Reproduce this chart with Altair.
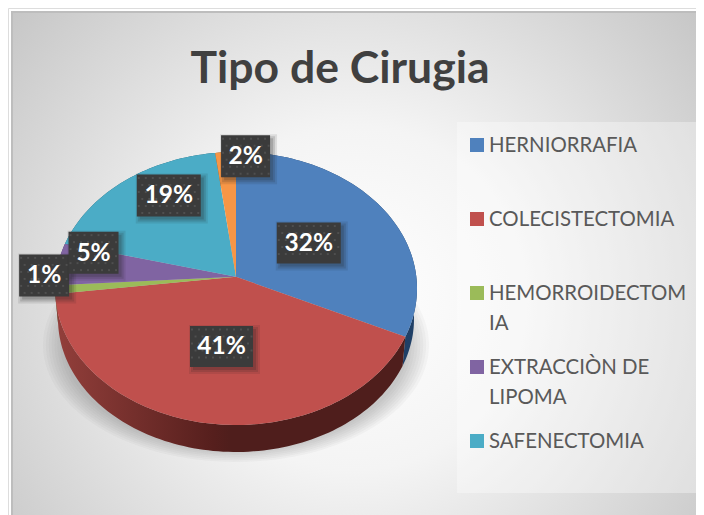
import math
import altair as alt
import pandas as pd

title_text = "Tipo de Cirugia"
categories = ["HERNIORRAFIA", "COLECISTECTOMIA", "HEMORROIDECTOMIA", "EXTRACCIÒN DE LIPOMA", "SAFENECTOMIA", "OTROS"]
legend_lines = [["HERNIORRAFIA"], ["COLECISTECTOMIA"], ["HEMORROIDECTOM", "IA"], ["EXTRACCIÒN DE", "LIPOMA"], ["SAFENECTOMIA"]]
values = [32, 41, 1, 5, 19, 2]
colors = ["#4f81bd", "#c0504d", "#9bbb59", "#8064a2", "#4bacc6", "#f79646"]
wall_colors = ["#1f3f66", "#4f1e1c", "#4f6127", "#41305a", "#1f5a6b", "#8a4f1c"]

W, H = 688, 507
CX, CY, RX, RY = 236, 288.5, 181, 136.5
TILT = 0.086


def ux(px):
    return (px - CX) / RX


def vy(py):
    return (CY - py) / RY


xs = alt.Scale(domain=[ux(8), ux(8 + W)], nice=False, zero=False)
ys = alt.Scale(domain=[vy(8 + H), vy(8)], nice=False, zero=False)
X = lambda f="x": alt.X(f"{f}:Q", scale=xs, axis=None)
Y = lambda f="y": alt.Y(f"{f}:Q", scale=ys, axis=None)


def project(theta_deg):
    t = math.radians(theta_deg)
    x, y = math.sin(t), math.cos(t)
    d = 1 + TILT * y
    return x * math.sqrt(1 - TILT ** 2) / d, (y + TILT) / d


def arc(a0, a1):
    n = max(2, int(abs(a1 - a0) / 1.5) + 2)
    return [project(a0 + (a1 - a0) * i / (n - 1)) for i in range(n)]


def poly(points, fill, opacity=1.0):
    df = pd.DataFrame(points, columns=["x", "y"])
    df["i"] = range(len(df))
    return alt.Chart(df).mark_line(fill=fill, strokeWidth=0, opacity=opacity, interpolate="linear-closed").encode(
        x=X(), y=Y(), order="i:Q"
    )


def ellipse(cx, cy, rx, ry):
    pts = []
    for i in range(120):
        t = 2 * math.pi * i / 120
        pts.append((cx + rx * math.sin(t), cy + ry * math.cos(t)))
    return pts


def rect(x0, y0, x1, y1, fill, opacity=1.0):
    df = pd.DataFrame([{"x": ux(x0), "x2": ux(x1), "y": vy(y0), "y2": vy(y1)}])
    return alt.Chart(df).mark_rect(fill=fill, opacity=opacity).encode(
        x=X(), x2="x2:Q", y=Y(), y2="y2:Q"
    )


layers = []

# panel with radial gradient
panel_fill = alt.RadialGradient(
    gradient="radial", x1=0.5, y1=0.55, r1=0, x2=0.5, y2=0.55, r2=0.72,
    stops=[alt.GradientStop(offset=0, color="#ffffff"),
           alt.GradientStop(offset=0.35, color="#f4f4f4"),
           alt.GradientStop(offset=1, color="#bfbfbf")],
)
layers.append(rect(11, 11, 13, 515, "#bdbdbd"))
layers.append(rect(11, 11, 696, 13, "#bdbdbd"))
layers.append(rect(13, 13, 696, 515, panel_fill))

# legend box
layers.append(rect(457, 122, 696, 493, "#ffffff", 0.35))

# soft shadow under the pie
for grow in [1.0, 0.985, 0.97, 0.955, 0.94, 0.925, 0.91, 0.895]:
    layers.append(poly(ellipse(0, vy(345), grow * 193 / RX, grow * 117 / RY), "#606060", 0.045))

# walls
BOT_CY, BOT_RX, BOT_RY = vy(319), 178 / 181, 133 / 136.5
cum = [0]
for v in values:
    cum.append(cum[-1] + v * 3.6)

red_wall = alt.LinearGradient(
    gradient="linear", x1=0, y1=0, x2=1, y2=0,
    stops=[alt.GradientStop(offset=0, color="#933f3b"),
           alt.GradientStop(offset=0.45, color="#561f1d"),
           alt.GradientStop(offset=0.5, color="#4f1e1c"),
           alt.GradientStop(offset=1, color="#4f1e1c")],
)
for i in [0, 5, 4, 3, 2, 1]:
    top = arc(cum[i], cum[i + 1])
    bottom = [(x * BOT_RX, BOT_CY + y * BOT_RY) for x, y in top]
    fill = red_wall if i == 1 else wall_colors[i]
    layers.append(poly(top + bottom[::-1], fill))

# top faces
centre = (0, TILT)
for i in range(len(values)):
    layers.append(poly([centre] + arc(cum[i], cum[i + 1]), colors[i]))

# data labels
label_r = [0.5, 0.47, 1.06, 0.8, 0.6, 1.0]
label_dx = [0, 0, 0, 0, 0, 20]
label_dy = [1, 1, -15, -14, -24, 4]
label_w = [64, 63, 50, 50, 64, 49]
label_h = [41, 41, 42, 42, 42, 42]
for i, v in enumerate(values):
    ex, ey = project((cum[i] + cum[i + 1]) / 2)
    r = label_r[i]
    lx = ex * r
    ly = TILT + (ey - TILT) * r
    df = pd.DataFrame([{"x": lx, "y": ly, "t": f"{v}%"}])
    base = alt.Chart(df).encode(x=X(), y=Y())
    for grow, off, op in [(8, 3, 0.10), (4, 3, 0.15), (0, 3, 0.18)]:
        layers.append(base.mark_rect(width=label_w[i] + grow, height=label_h[i] + grow, fill="#222222", opacity=op,
                                     xOffset=label_dx[i] + off, yOffset=label_dy[i] + off))
    layers.append(base.mark_rect(width=label_w[i], height=label_h[i], fill="#3b3b3b",
                                 xOffset=label_dx[i], yOffset=label_dy[i]))
    # dotted texture of the label box
    px0 = CX + RX * lx + label_dx[i] - label_w[i] / 2
    py0 = CY - RY * ly + label_dy[i] - label_h[i] / 2
    dots = []
    for row in range(int(label_h[i] // 7)):
        for col in range(int(label_w[i] // 7) + 1):
            ox = 3.5 * (row % 2) + 7 * col + 2
            if ox < label_w[i] - 1:
                dots.append({"x": ux(px0 + ox), "y": vy(py0 + 3.5 + 7 * row)})
    layers.append(alt.Chart(pd.DataFrame(dots)).mark_square(size=4, fill="#4f4f4f", opacity=1, strokeWidth=0).encode(x=X(), y=Y()))
    layers.append(base.mark_text(font="Lato", fontWeight="bold", fontSize=24.5, color="#ffffff", align="center",
                                 baseline="middle", dx=label_dx[i], dy=label_dy[i] + 1).encode(text="t:N"))

# legend
rows = []
row_tops = [145, 219, 293, 367, 441]
keys = []
for i, lines in enumerate(legend_lines):
    keys.append({"x": ux(477), "y": vy(row_tops[i]), "c": colors[i]})
    for j, line in enumerate(lines):
        rows.append({"x": ux(489), "y": vy(row_tops[i] + j * 29.5), "t": line})
for k in keys:
    d = pd.DataFrame([k])
    layers.append(alt.Chart(d).mark_square(size=196, fill=k["c"], opacity=1, strokeWidth=0).encode(x=X(), y=Y()))
layers.append(alt.Chart(pd.DataFrame(rows)).mark_text(font="Lato", fontSize=20.4, color="#595959", align="left",
                                                     baseline="middle", dy=1).encode(x=X(), y=Y(), text="t:N"))

# title
layers.append(alt.Chart(pd.DataFrame([{"x": ux(340), "y": vy(70), "t": title_text}])).mark_text(
    font="Lato", fontWeight="bold", fontSize=44.5, color="#404040", align="center", baseline="middle"
).encode(x=X(), y=Y(), text="t:N"))

chart = alt.layer(*layers).properties(width=W, height=H, padding=0).configure_view(stroke=None).configure(background="white")
chart.save("out.html", embed_options={"renderer": "svg", "actions": False})
